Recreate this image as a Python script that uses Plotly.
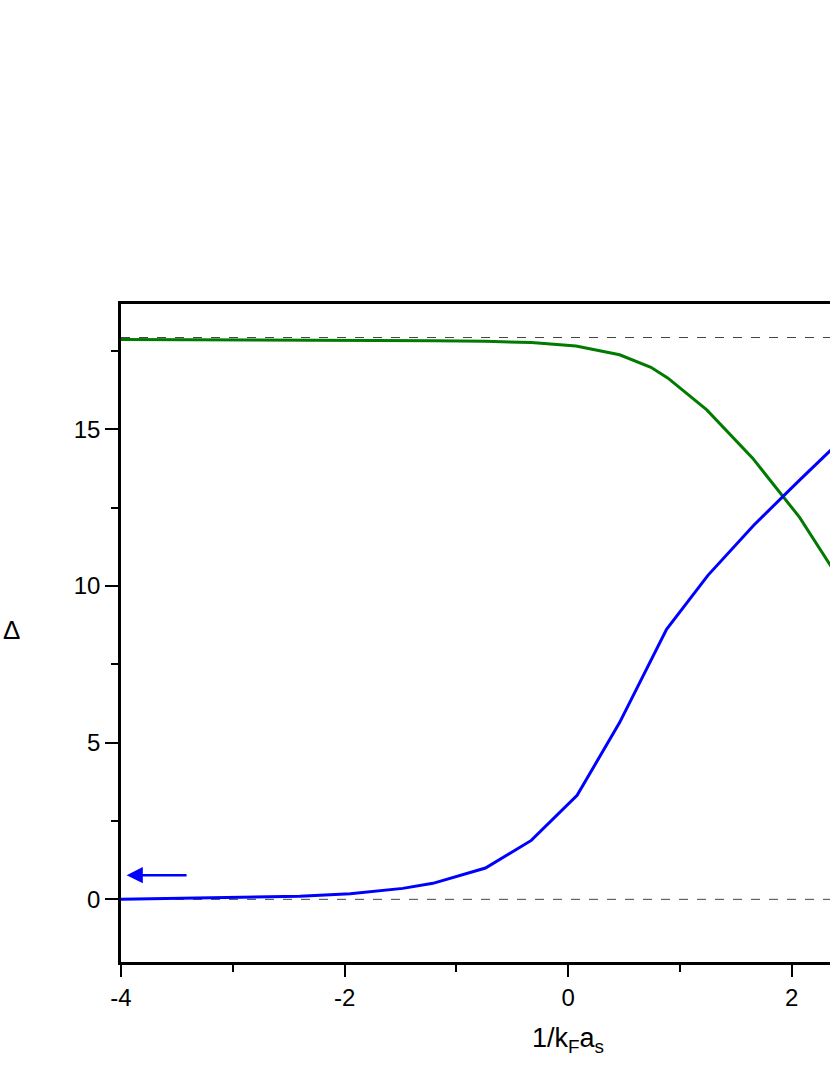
"""Gap and second curve versus 1/kF as"""

import plotly.graph_objects as go

# blue curve (Delta)
inv_kfa_blue = [-4.0, -3.6, -3.2, -2.8, -2.4, -1.95, -1.48, -1.21, -0.74, -0.33,
                0.08, 0.46, 0.75, 0.88, 1.25, 1.66, 2.07, 2.5]
delta_blue = [0.0, 0.02, 0.04, 0.06, 0.10, 0.18, 0.35, 0.51, 1.0, 1.88,
              3.32, 5.64, 7.71, 8.62, 10.34, 11.94, 13.38, 14.85]

# green curve
inv_kfa_green = [-4.0, -3.0, -2.0, -1.2, -0.74, -0.33, 0.07, 0.46, 0.74, 0.89,
                 1.24, 1.65, 2.07, 2.5]
delta_green = [17.87, 17.86, 17.85, 17.83, 17.81, 17.77, 17.66, 17.38, 16.98, 16.64,
               15.62, 14.08, 12.19, 9.8]

# dashed reference levels
ref_levels = [0.0, 17.93]
ref_x = [-4.0, 4.0]

# tick labels (plain hyphen as in the original)
x_ticks = [-4, -2, 0, 2]
x_ticktext = ["-4", "-2", "0", "2"]
y_ticks = [0, 5, 10, 15]

# arrow marking the blue curve's axis
arrow_tail = (-3.4, 0.77)
arrow_head = (-3.95, 0.77)

font_family = "Arial, Liberation Sans, sans-serif"

fig = go.Figure()

for level in ref_levels:
    fig.add_trace(go.Scatter(x=ref_x, y=[level, level], mode="lines",
                             line=dict(color="#444444", width=1, dash="dash"),
                             showlegend=False, hoverinfo="skip"))

fig.add_trace(go.Scatter(x=inv_kfa_green, y=delta_green, mode="lines",
                         line=dict(color="#007a00", width=3), showlegend=False))
fig.add_trace(go.Scatter(x=inv_kfa_blue, y=delta_blue, mode="lines",
                         line=dict(color="#0000ff", width=3), showlegend=False))

fig.add_annotation(x=arrow_head[0], y=arrow_head[1], ax=arrow_tail[0], ay=arrow_tail[1],
                   xref="x", yref="y", axref="x", ayref="y", text="",
                   showarrow=True, arrowhead=2, arrowsize=1.3, arrowwidth=2.5,
                   arrowcolor="#0000ff")

# axis titles as annotations so they sit where the reference puts them
fig.add_annotation(x=0, y=-0.118, xref="x", yref="paper",
                   text="1/k<sub>F</sub>a<sub>s</sub>", showarrow=False,
                   font=dict(family=font_family, size=27, color="black"),
                   xanchor="center", yanchor="middle")
fig.add_annotation(x=-0.154, y=8.6, xref="paper", yref="y", text="Δ",
                   showarrow=False, font=dict(family=font_family, size=26, color="black"),
                   xanchor="center", yanchor="middle")

fig.update_xaxes(range=[-4, 2.342], tickvals=x_ticks, ticktext=x_ticktext, ticks="outside",
                 ticklen=12, tickwidth=2, tickcolor="black",
                 minor=dict(tickvals=[-3, -1, 1, 3], ticks="outside", ticklen=7,
                            tickwidth=2, tickcolor="black"),
                 showline=True, linewidth=2.5, linecolor="black", mirror=True,
                 showgrid=False, zeroline=False,
                 tickfont=dict(family=font_family, size=24, color="black"))
fig.update_yaxes(range=[-2, 19], tickvals=y_ticks, ticks="outside",
                 ticklen=13, tickwidth=2, tickcolor="black",
                 minor=dict(tickvals=[2.5, 7.5, 12.5, 17.5], ticks="outside", ticklen=7,
                            tickwidth=2, tickcolor="black"),
                 showline=True, linewidth=2.5, linecolor="black", mirror=False,
                 showgrid=False, zeroline=False,
                 tickfont=dict(family=font_family, size=24, color="black"))

fig.update_layout(width=830, height=1075, plot_bgcolor="white", paper_bgcolor="white",
                  margin=dict(l=121, r=0, t=304, b=113))

# drop the default page margin so the figure fills the window exactly
fig.write_html("out.html", config={"displayModeBar": False},
               post_script="document.body.style.margin='0';"
                           "document.body.style.overflow='hidden';")
